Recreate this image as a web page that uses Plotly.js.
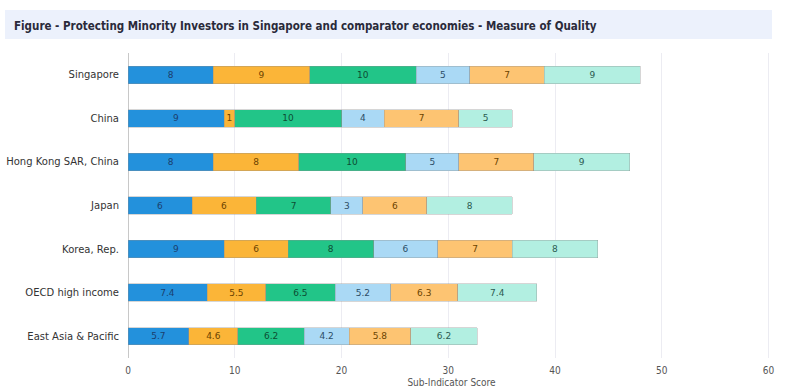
<!DOCTYPE html>
<html>
<head>
<meta charset="utf-8">
<script src="https://cdn.plot.ly/plotly-3.0.1.min.js"></script>
<style>html,body{margin:0;padding:0;background:#fff;}#chart{width:800px;height:388px;}</style>
</head>
<body>
<div id="chart"></div>
<script>
const categories = ["Singapore", "China", "Hong Kong SAR, China", "Japan", "Korea, Rep.", "OECD high income", "East Asia & Pacific"];
const seriesNames = ["Extent of disclosure", "Extent of director liability", "Ease of shareholder suits", "Extent of shareholder rights", "Extent of ownership and control", "Extent of corporate transparency"];
const s1 = [8, 9, 8, 6, 9, 7.4, 5.7];
const s2 = [9, 1, 8, 6, 6, 5.5, 4.6];
const s3 = [10, 10, 10, 7, 8, 6.5, 6.2];
const s4 = [5, 4, 5, 3, 6, 5.2, 4.2];
const s5 = [7, 7, 7, 6, 7, 6.3, 5.8];
const s6 = [9, 5, 9, 8, 8, 7.4, 6.2];
const xTicks = [0, 10, 20, 30, 40, 50, 60];

const series = [s1, s2, s3, s4, s5, s6];
const colors = ["#2391dc", "#fbb538", "#22c588", "#aad9f5", "#fdc472", "#b2efe1"];
const textColors = ["#1b3f6e", "#6b4300", "#0d4d33", "#2c4d66", "#6b4300", "#2b5a50"];

const traces = series.map((vals, i) => ({
  type: "bar",
  orientation: "h",
  name: seriesNames[i],
  y: categories,
  x: vals,
  text: vals.map(v => String(v)),
  textposition: "inside",
  insidetextanchor: "middle",
  textangle: 0,
  constraintext: "none",
  textfont: {family: "DejaVu Sans", size: 9, color: textColors[i]},
  marker: {color: colors[i], line: {color: "rgba(140,140,140,0.45)", width: 0.8}},
  hoverinfo: "x+y+name"
}));

const layout = {
  width: 800,
  height: 388,
  margin: {l: 128, r: 25, t: 53, b: 30},
  paper_bgcolor: "#ffffff",
  plot_bgcolor: "#ffffff",
  barmode: "stack",
  bargap: 0.6,
  showlegend: false,
  uniformtext: {mode: "show", minsize: 9},
  font: {family: "DejaVu Sans", size: 10, color: "#444"},
  xaxis: {
    range: [0, 60.6],
    tickvals: xTicks,
    ticktext: xTicks.map(String),
    showgrid: true,
    gridcolor: "#ececf2",
    zeroline: true,
    zerolinecolor: "#c8c8c8",
    zerolinewidth: 1,
    ticklabelstandoff: 5,
    tickfont: {family: "DejaVu Sans Condensed, DejaVu Sans", size: 10, color: "#555"},
    title: {text: "Sub-Indicator Score", font: {family: "DejaVu Sans Condensed, DejaVu Sans", size: 10, color: "#555"}, standoff: 6},
    automargin: false
  },
  yaxis: {
    autorange: "reversed",
    showgrid: false,
    ticks: "",
    ticklabelstandoff: 8,
    tickfont: {family: "DejaVu Sans", size: 10, color: "#333"},
    automargin: false
  },
  shapes: [{
    type: "rect", xref: "paper", yref: "paper",
    x0: -128/647 + 5/647, x1: -128/647 + 772/647,
    y0: 1 + (53-39)/305, y1: 1 + (53-10)/305,
    fillcolor: "#ecf1fc", line: {width: 0}, layer: "below"
  }],
  annotations: [{
    xref: "paper", yref: "paper",
    x: -128/647 + 12/647, y: 1 + (53-26)/305,
    xanchor: "left", yanchor: "middle",
    text: "<b>Figure - Protecting Minority Investors in Singapore and comparator economies - Measure of Quality</b>",
    showarrow: false,
    font: {family: "DejaVu Sans Condensed, DejaVu Sans", size: 11.5, color: "#2a2a3a"}
  }]
};

Plotly.newPlot("chart", traces, layout, {displayModeBar: false, staticPlot: true});
</script>
</body>
</html>
